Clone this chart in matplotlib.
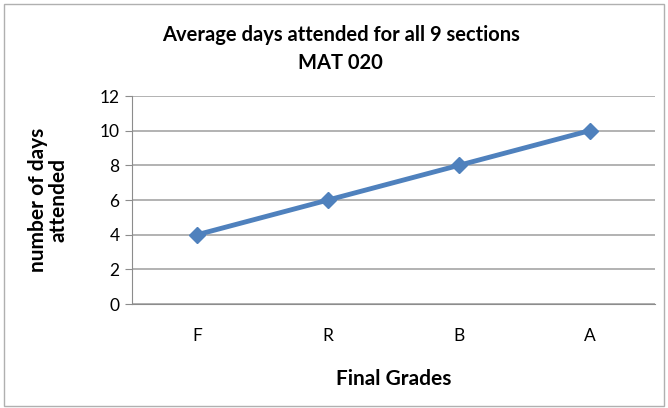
import matplotlib.pyplot as plt
from matplotlib.patches import Rectangle

# data
grades = ["F", "R", "B", "A"]
days = [4, 6, 8, 10]
y_ticks = [0, 2, 4, 6, 8, 10, 12]

plt.rcParams['font.family'] = ['Lato', 'DejaVu Sans']

fig = plt.figure(figsize=(6.68, 4.08), dpi=100)
ax = fig.add_axes([0.1976, 0.2549, 0.7829, 0.5098])

x = list(range(len(grades)))
ax.plot(x, days, color="#4F81BD", linewidth=3.5, marker="D", markersize=8,
        markeredgecolor="#4F81BD", zorder=3)

ax.set_xlim(-0.5, len(grades) - 0.5)
ax.set_ylim(0, 12)
ax.set_yticks(y_ticks)
ax.set_xticks(x)
ax.set_xticklabels(grades)
ax.yaxis.grid(True, color="#a6a6a6", linewidth=1.2)
ax.set_axisbelow(True)

for s in ["top", "right"]:
    ax.spines[s].set_visible(False)
ax.spines["left"].set_color("#8c8c8c")
ax.spines["bottom"].set_color("#8c8c8c")
ax.tick_params(axis="y", length=5, color="#8c8c8c", labelsize=12.5, pad=4)
ax.tick_params(axis="x", length=0, labelsize=12.5, pad=17)

ax.set_xlabel("Final Grades", fontsize=15, fontweight="bold", labelpad=18)
ax.set_ylabel("number of days\nattended", fontsize=15, fontweight="bold",
              labelpad=22, linespacing=1.05)

fig.text(0.51, 0.88, "Average days attended for all 9 sections\nMAT 020",
         ha="center", va="center", fontsize=14.5, fontweight="bold",
         linespacing=1.45)

# chart border
fig.patches.append(Rectangle((0.006, 0.005), 0.988, 0.985, transform=fig.transFigure,
                             fill=False, edgecolor="#b0b0b0", linewidth=1))

plt.savefig("out.png", dpi=100)
